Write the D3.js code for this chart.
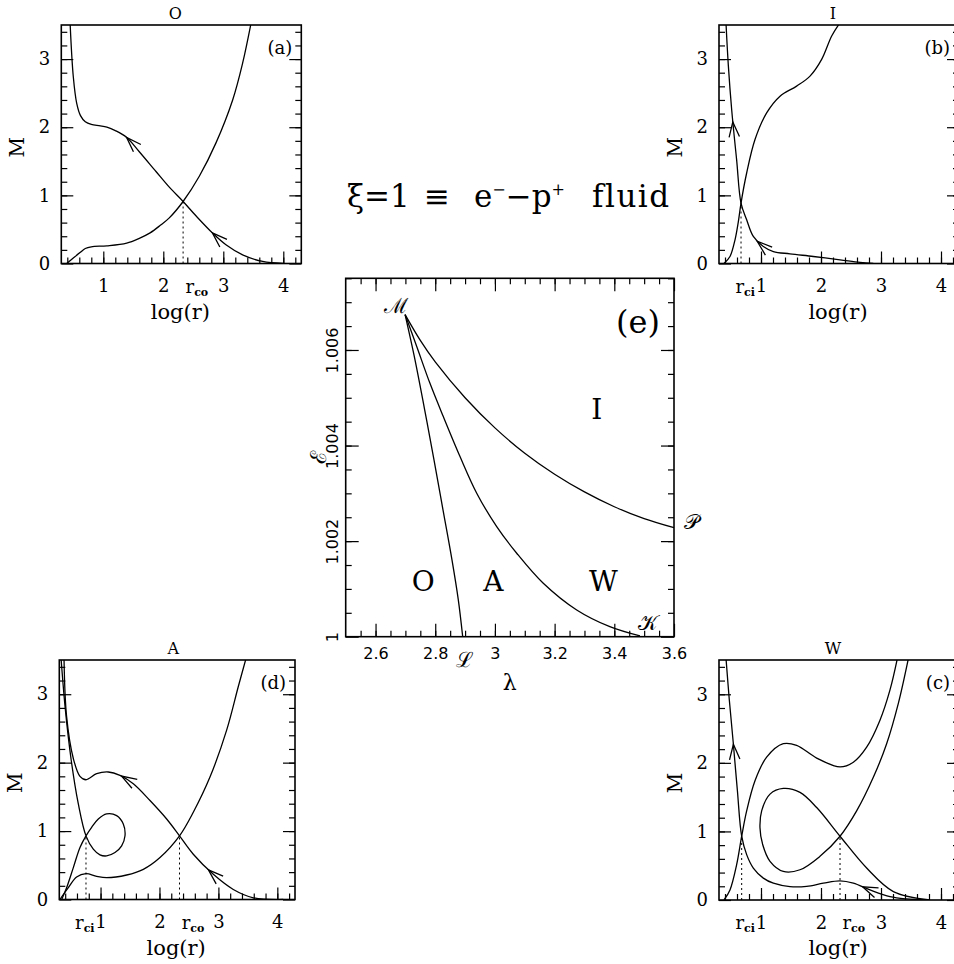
<!DOCTYPE html>
<html><head><meta charset="utf-8">
<script src="https://cdn.jsdelivr.net/npm/d3@7"></script>
<style>body{margin:0;background:#fff} svg{display:block}</style>
</head><body>
<svg id="chart" width="954" height="964"></svg>
<script>
// ---------------- DATA ----------------
// Tick labels
const xTickLabels = [1, 2, 3, 4];          // log(r)
const yTickLabels = [0, 1, 2, 3];          // M
const lambdaTicks = [2.6, 2.8, 3, 3.2, 3.4, 3.6];
const energyTicks = [1, 1.002, 1.004, 1.006];
const xDomainR = [0.3, 4.3];
const yDomainM = [0, 3.5];
const lambdaDomain = [2.5, 3.6];
const energyDomain = [1, 1.0075];

// Panel (a) "O": [log r, M]
const aInflow  = [[0.447,3.52],[0.5,2.74],[0.557,2.35],[0.62,2.17],[0.7,2.08],[0.8,2.04],[0.95,2.02],[1.06,2.0],[1.2,1.95],[1.39,1.85],[1.6,1.64],[1.878,1.35],[2.1,1.12],[2.33,0.91],[2.544,0.7],[2.822,0.446],[3.044,0.275],[3.322,0.127],[3.656,0.03],[4.0,0.002]];
const aOutflow = [[0.39,0],[0.5,0.08],[0.612,0.16],[0.7,0.22],[0.8,0.245],[1.06,0.26],[1.39,0.3],[1.6,0.37],[1.78,0.45],[1.95,0.56],[2.1,0.67],[2.33,0.91],[2.6,1.28],[2.878,1.77],[3.156,2.4],[3.322,2.94],[3.461,3.52]];
const aCritical = [[2.33, 0.91]];
const aCritNames = ["co"];
const aArrows = [1.39, 2.82];

// Panel (b) "I"
const bInflow  = [[0.417,3.52],[0.456,2.9],[0.511,2.26],[0.594,1.52],[0.667,0.887],[0.761,0.642],[0.872,0.397],[1.039,0.25],[1.206,0.176],[1.483,0.142],[1.872,0.103],[2.317,0.054],[2.65,0.015],[2.872,0.0]];
const bOutflow = [[0.383,0],[0.483,0.103],[0.567,0.348],[0.62,0.6],[0.667,0.887],[0.761,1.328],[0.9,1.819],[1.094,2.21],[1.317,2.456],[1.594,2.603],[1.817,2.75],[2.011,2.995],[2.178,3.338],[2.306,3.52]];
const bCritical = [[0.667, 0.887]];
const bCritNames = ["ci"];
const bArrows = [0.53, 0.94];

// Panel (c) "W"
const cInflow = [[0.417,3.52],[0.472,2.917],[0.539,2.279],[0.606,1.6],[0.678,0.93],[0.761,0.662],[0.872,0.466],[1.039,0.319],[1.206,0.245],[1.483,0.196],[1.761,0.2],[2.039,0.245],[2.317,0.279],[2.539,0.245],[2.817,0.147],[3.15,0.049],[3.428,0.015],[3.76,0]];
const cLoop = [[3.817,0],[3.206,0.123],[2.761,0.466],[2.317,0.93],[1.928,1.348],[1.65,1.569],[1.372,1.627],[1.15,1.544],[1.011,1.299],[0.983,1.054],[1.028,0.809],[1.15,0.564],[1.372,0.417],[1.65,0.441],[1.983,0.637],[2.317,0.93],[2.594,1.299],[2.872,1.789],[3.094,2.279],[3.289,2.868],[3.456,3.52]];
const cUpper = [[0.383,0],[0.483,0.147],[0.594,0.515],[0.678,0.93],[0.761,1.299],[0.9,1.74],[1.094,2.083],[1.372,2.279],[1.594,2.255],[1.928,2.07],[2.317,1.94],[2.539,2.01],[2.761,2.23],[2.983,2.623],[3.15,3.064],[3.272,3.52]];
const cCritical = [[0.678, 0.93], [2.317, 0.93]];
const cCritNames = ["ci", "co"];
const cArrows = [0.54, 2.69];

// Panel (d) "A"
const dInflow = [[0.38,3.52],[0.424,2.672],[0.538,2.06],[0.651,1.8],[0.753,1.75],[0.934,1.838],[1.132,1.863],[1.33,1.814],[1.556,1.691],[1.839,1.446],[2.122,1.176],[2.34,0.93],[2.574,0.662],[2.914,0.368],[3.253,0.147],[3.593,0.025],[4.1,0]];
const dLoop = [[0.33,3.52],[0.4,2.8],[0.5,2.05],[0.622,1.4],[0.753,0.93],[0.877,0.735],[0.99,0.652],[1.103,0.637],[1.245,0.686],[1.358,0.784],[1.415,0.931],[1.386,1.103],[1.273,1.225],[1.103,1.25],[0.962,1.176],[0.849,1.054],[0.753,0.93],[0.651,0.76],[0.538,0.466],[0.424,0.172],[0.34,0]];
const dOutflow = [[0.311,0],[0.453,0.172],[0.594,0.328],[0.753,0.377],[0.934,0.338],[1.103,0.319],[1.443,0.358],[1.726,0.441],[2.009,0.613],[2.34,0.93],[2.574,1.275],[2.857,1.789],[3.14,2.475],[3.338,3.113],[3.468,3.52]];
const dCritical = [[0.753, 0.93], [2.34, 0.93]];
const dCritNames = ["ci", "co"];
const dArrows = [1.36, 2.83];

// Panel (e): [lambda, energy]
const eCurveML = [[2.699,1.00674],[2.7322,1.005795],[2.7646,1.004748],[2.7958,1.0037],[2.826,1.002653],[2.8561,1.001606],[2.8773,1.000769],[2.892,1.0]];
const eCurveMK = [[2.699,1.00674],[2.738,1.006073],[2.782,1.005307],[2.827,1.004607],[2.883,1.00377],[2.939,1.003003],[3.006,1.002304],[3.073,1.001747],[3.162,1.001118],[3.274,1.000559],[3.385,1.000209],[3.486,1.000015]];
const eCurveMP = [[2.699,1.00674],[2.75,1.0062],[2.8,1.00575],[2.9,1.005],[3.0,1.00437],[3.1,1.00384],[3.2,1.0034],[3.3,1.00303],[3.4,1.00272],[3.5,1.00247],[3.6,1.00228]];
const regionLabels = [["O",2.76,1.00096],["A",2.995,1.00096],["W",3.363,1.00096],["I",3.341,1.00456]];

// ---------------- DRAWING ----------------
const svg = d3.select('#chart');
const SERIF = "'DejaVu Serif','Liberation Serif',serif";
const SANS = "'DejaVu Sans','Liberation Sans',sans-serif";
const minorR = d3.range(2, 22).map(i => i / 5);
const minorM = d3.range(1, 18).map(i => i / 5);

function drawArrow(g, node, tx) {
  const L = node.getTotalLength();
  let best = 0, bd = Infinity;
  for (let s = 0; s <= L; s += 0.5) {
    const p = node.getPointAtLength(s);
    const d = Math.abs(p.x - tx);
    if (d < bd) { bd = d; best = s; }
  }
  const tip = node.getPointAtLength(best);
  const back = node.getPointAtLength(Math.min(L, best + 8));
  let ux = back.x - tip.x, uy = back.y - tip.y;
  const n = Math.hypot(ux, uy) || 1; ux /= n; uy /= n;
  const a = 19 * Math.PI / 180, len = 16;
  const w1 = [tip.x + len * (ux * Math.cos(a) - uy * Math.sin(a)), tip.y + len * (ux * Math.sin(a) + uy * Math.cos(a))];
  const w2 = [tip.x + len * (ux * Math.cos(-a) - uy * Math.sin(-a)), tip.y + len * (ux * Math.sin(-a) + uy * Math.cos(-a))];
  g.append('path').attr('d', `M${w1[0]},${w1[1]}L${tip.x},${tip.y}L${w2[0]},${w2[1]}`)
    .attr('fill', 'none').attr('stroke', '#000').attr('stroke-width', 1.3);
}

const panels = [
  {key:'a', title:'O', tag:'(a)', x0:61.3, x1:301.3, y0:25, y1:263.5, curves:[aInflow, aOutflow], crit:aCritical, critNames:aCritNames, arrows:aArrows},
  {key:'b', title:'I', tag:'(b)', x0:719, x1:959, y0:25, y1:263.5, curves:[bInflow, bOutflow], crit:bCritical, critNames:bCritNames, arrows:bArrows},
  {key:'d', title:'A', tag:'(d)', x0:59.3, x1:295, y0:660, y1:899.5, curves:[dInflow, dLoop, dOutflow], crit:dCritical, critNames:dCritNames, arrows:dArrows},
  {key:'c', title:'W', tag:'(c)', x0:719, x1:959, y0:660, y1:900, curves:[cInflow, cLoop, cUpper], crit:cCritical, critNames:cCritNames, arrows:cArrows}
];

panels.forEach(p => {
  const g = svg.append('g');
  const x = d3.scaleLinear().domain(xDomainR).range([p.x0, p.x1]);
  const y = d3.scaleLinear().domain(yDomainM).range([p.y1, p.y0]);
  const ax = g.append('g');
  ax.append('g').attr('transform', `translate(0,${p.y1})`).call(d3.axisBottom(x).tickValues(minorR).tickSize(-6).tickFormat(''));
  ax.append('g').attr('transform', `translate(0,${p.y1})`).call(d3.axisBottom(x).tickValues(xTickLabels).tickSize(-12).tickPadding(16).tickFormat(d3.format('d')));
  ax.append('g').attr('transform', `translate(${p.x0},0)`).call(d3.axisLeft(y).tickValues(minorM).tickSize(-6).tickFormat(''));
  ax.append('g').attr('transform', `translate(${p.x0},0)`).call(d3.axisLeft(y).tickValues(yTickLabels).tickSize(-12).tickPadding(11).tickFormat(d3.format('d')));
  ax.append('g').attr('transform', `translate(${p.x1},0)`).call(d3.axisRight(y).tickValues(minorM).tickSize(-6).tickFormat(''));
  ax.append('g').attr('transform', `translate(${p.x1},0)`).call(d3.axisRight(y).tickValues(yTickLabels).tickSize(-12).tickFormat(''));
  ax.selectAll('.domain').remove();
  ax.selectAll('line').attr('stroke', '#000').attr('stroke-width', 1.2);
  ax.selectAll('text').attr('font-family', SERIF).attr('font-size', 18).attr('fill', '#000');

  const clipId = 'clip-' + p.key;
  svg.append('clipPath').attr('id', clipId).append('rect')
    .attr('x', p.x0).attr('y', p.y0).attr('width', p.x1 - p.x0).attr('height', p.y1 - p.y0);
  const cg = g.append('g').attr('clip-path', `url(#${clipId})`);
  const line = d3.line().x(d => x(d[0])).y(d => y(d[1])).curve(d3.curveCatmullRom.alpha(0.5));
  const paths = p.curves.map(c => cg.append('path').datum(c).attr('d', line)
    .attr('fill', 'none').attr('stroke', '#000').attr('stroke-width', 1.3).node());
  p.arrows.forEach(ax0 => drawArrow(cg, paths[0], x(ax0)));

  // dotted lines at critical points
  p.crit.forEach((c, i) => {
    g.append('line').attr('x1', x(c[0])).attr('x2', x(c[0])).attr('y1', y(0)).attr('y2', y(c[1]))
      .attr('stroke', '#000').attr('stroke-width', 1).attr('stroke-dasharray', '2,3');
    const name = p.critNames[i];
    const t = g.append('text').attr('y', p.y1 + 29).attr('font-family', SERIF).attr('font-size', 18);
    if (name === 'ci') t.attr('x', x(1) - 6).attr('text-anchor', 'end');
    else t.attr('x', x(c[0] + 0.23)).attr('text-anchor', 'middle');
    t.append('tspan').text('r');
    t.append('tspan').attr('dy', 3).attr('font-size', 11).attr('font-weight', 'bold').text(name);
  });

  // frame
  g.append('rect').attr('x', p.x0).attr('y', p.y0).attr('width', p.x1 - p.x0).attr('height', p.y1 - p.y0)
    .attr('fill', 'none').attr('stroke', '#000').attr('stroke-width', 1.6);

  // labels
  g.append('text').attr('x', p.x0 + 114).attr('y', p.y0 - 6).attr('text-anchor', 'middle')
    .attr('font-family', SERIF).attr('font-size', 16).text(p.title);
  g.append('text').attr('x', p.x1 - 9).attr('y', p.y0 + 29).attr('text-anchor', 'end')
    .attr('font-family', SERIF).attr('font-size', 18).text(p.tag);
  g.append('text').attr('transform', `translate(${p.x0 - 37},${(p.y0 + p.y1) / 2 + 3}) rotate(-90)`)
    .attr('text-anchor', 'middle').attr('font-family', SERIF).attr('font-size', 20).text('M');
  g.append('text').attr('x', (p.x0 + p.x1) / 2 - 1).attr('y', p.y1 + 55).attr('text-anchor', 'middle')
    .attr('font-family', SERIF).attr('font-size', 21).text('log(r)');
});

// ---------- Panel (e) ----------
(function () {
  const E = {x0:345.7, x1:674, y0:278.3, y1:636.7};
  const x = d3.scaleLinear().domain(lambdaDomain).range([E.x0, E.x1]);
  const y = d3.scaleLinear().domain(energyDomain).range([E.y1, E.y0]);
  const g = svg.append('g');
  const ax = g.append('g');
  const minorL = d3.range(51, 72).map(i => i / 20);
  const minorE = d3.range(1, 16).map(i => 1 + i * 0.0005);
  ax.append('g').attr('transform', `translate(0,${E.y1})`).call(d3.axisBottom(x).tickValues(minorL).tickSize(-6).tickFormat(''));
  ax.append('g').attr('transform', `translate(0,${E.y1})`).call(d3.axisBottom(x).tickValues(lambdaTicks).tickSize(-13).tickPadding(11).tickFormat(d3.format('~g')));
  ax.append('g').attr('transform', `translate(0,${E.y0})`).call(d3.axisTop(x).tickValues(minorL).tickSize(-6).tickFormat(''));
  ax.append('g').attr('transform', `translate(0,${E.y0})`).call(d3.axisTop(x).tickValues(lambdaTicks).tickSize(-13).tickFormat(''));
  ax.append('g').attr('transform', `translate(${E.x0},0)`).call(d3.axisLeft(y).tickValues(minorE).tickSize(-6).tickFormat(''));
  const yl = ax.append('g').attr('transform', `translate(${E.x0},0)`).call(d3.axisLeft(y).tickValues(energyTicks).tickSize(-13).tickFormat(d => d === 1 ? '1' : d3.format('.3f')(d)));
  ax.append('g').attr('transform', `translate(${E.x1},0)`).call(d3.axisRight(y).tickValues(minorE).tickSize(-6).tickFormat(''));
  ax.append('g').attr('transform', `translate(${E.x1},0)`).call(d3.axisRight(y).tickValues(energyTicks).tickSize(-13).tickFormat(''));
  ax.selectAll('.domain').remove();
  ax.selectAll('line').attr('stroke', '#000').attr('stroke-width', 1.2);
  ax.selectAll('text').attr('font-family', SANS).attr('font-size', 16).attr('fill', '#000');
  yl.selectAll('text').attr('x', 0).attr('y', -8).attr('dy', 0).attr('text-anchor', 'middle').attr('transform', 'rotate(-90)');

  const line = d3.line().x(d => x(d[0])).y(d => y(d[1])).curve(d3.curveCatmullRom.alpha(0.5));
  [eCurveML, eCurveMK, eCurveMP].forEach(c => g.append('path').datum(c).attr('d', line)
    .attr('fill', 'none').attr('stroke', '#000').attr('stroke-width', 1.3));

  g.append('rect').attr('x', E.x0).attr('y', E.y0).attr('width', E.x1 - E.x0).attr('height', E.y1 - E.y0)
    .attr('fill', 'none').attr('stroke', '#000').attr('stroke-width', 1.6);

  regionLabels.forEach(r => g.append('text').attr('x', x(r[1])).attr('y', y(r[2])).attr('text-anchor', 'middle')
    .attr('font-family', SERIF).attr('font-size', 28).text(r[0]));
  g.append('text').attr('x', E.x1 - 36).attr('y', E.y0 + 55).attr('text-anchor', 'middle')
    .attr('font-family', SERIF).attr('font-size', 32).text('(e)');

  const mP = eCurveML[0], lP = eCurveML[eCurveML.length - 1], kP = eCurveMK[eCurveMK.length - 1], pP = eCurveMP[eCurveMP.length - 1];
  const script = (t, px, py) => g.append('text').attr('x', px).attr('y', py).attr('text-anchor', 'middle')
    .attr('font-family', SERIF).attr('font-size', 21).text(t);
  script('ℳ', x(mP[0]) - 9, y(mP[1]) - 2);
  script('ℒ', x(lP[0]) + 2, y(lP[1]) + 30);
  script('𝒦', x(kP[0]) + 8, y(kP[1]) - 6);
  script('𝒫', x(pP[0]) + 17, y(pP[1]) + 1);

  g.append('text').attr('x', (E.x0 + E.x1) / 2).attr('y', E.y1 + 53).attr('text-anchor', 'middle')
    .attr('font-family', SERIF).attr('font-size', 22).text('λ');
  g.append('text').attr('transform', `translate(${E.x0 - 20},${(E.y0 + E.y1) / 2}) rotate(-90)`)
    .attr('text-anchor', 'middle').attr('font-family', SERIF).attr('font-size', 22).text('ℰ');
})();

// ---------- Title ----------
const title = svg.append('text').attr('y', 207).attr('font-family', SERIF).attr('font-size', 31).attr('fill', '#000');
title.append('tspan').attr('x', 347).text('ξ=1');
title.append('tspan').attr('x', 424).text('≡');
title.append('tspan').attr('x', 474).text('e');
title.append('tspan').attr('dy', -12).attr('font-size', 16).text('−');
title.append('tspan').attr('dy', 12).text('−p');
title.append('tspan').attr('dy', -12).attr('font-size', 16).text('+');
title.append('tspan').attr('x', 592).attr('dy', 12).attr('letter-spacing', 1.5).text('fluid');
</script>
</body></html>
